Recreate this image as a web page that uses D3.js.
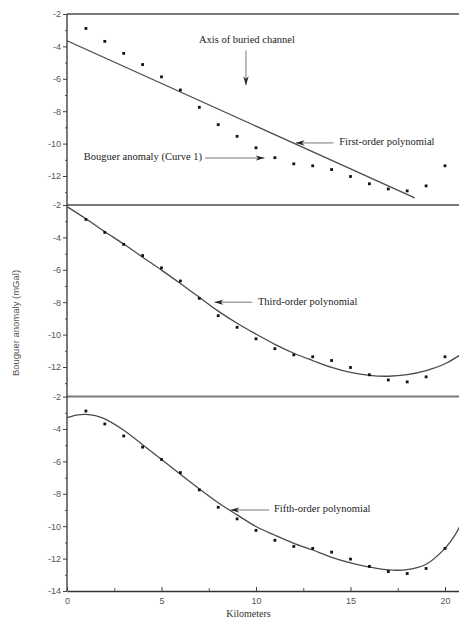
<!DOCTYPE html>
<html>
<head>
<meta charset="utf-8">
<script src="https://cdn.jsdelivr.net/npm/d3@7"></script>
<style>
    body { margin: 0; background: #fff; }
    svg { display: block; }
</style>
</head>
<body>
<svg id="GravityChartSVG" width="459" height="620"></svg>
<script>
// distance along profile (km) for the measured Bouguer anomaly points
var stationKm = [1, 2, 3, 4, 5, 6, 7, 8, 9, 10, 11, 12, 13, 14, 15, 16, 17, 18, 19, 20];
var bouguerValues = [-2.89, -3.69, -4.43, -5.12, -5.88, -6.69, -7.76, -8.83, -9.55, -10.26,
    -10.87, -11.25, -11.37, -11.6, -12.03, -12.48, -12.8, -12.92, -12.61, -11.37];

// fitted curves as [km, mGal]
var firstOrderCurve = [[0, -3.65], [18.4, -13.35]];
var thirdOrderCurve = [[0, -2.1], [1, -2.85], [2, -3.65], [3, -4.41], [4, -5.22], [5, -6.02],
    [6, -6.85], [7, -7.7], [8, -8.55], [9, -9.3], [10, -9.97], [11, -10.6], [12, -11.15],
    [13, -11.6], [14, -12.02], [15, -12.33], [16, -12.52], [17, -12.57], [18, -12.47],
    [19, -12.22], [20, -11.8], [21, -11.1]];
var fifthOrderCurve = [[0, -3.3], [0.5, -3.14], [1, -3.1], [1.5, -3.18], [2, -3.38], [3, -4.08],
    [4, -4.97], [5, -5.88], [6, -6.8], [7, -7.7], [8, -8.55], [9, -9.3], [10, -10.02],
    [11, -10.56], [12, -11.06], [13, -11.47], [14, -11.92], [15, -12.26], [16, -12.52],
    [17, -12.7], [18, -12.68], [19, -12.35], [20, -11.37], [20.5, -10.6], [21, -9.5]];

// tick labels
var xTickValues = [0, 5, 10, 15, 20];
var yTickValues = [-2, -4, -6, -8, -10, -12];
var yTickValuesLast = [-2, -4, -6, -8, -10, -12, -14];

/**
 * Draws the three stacked panels of the gravity profile
 * @returns {undefined}
 */
function drawGravityProfile()
{
    var svg = d3.select("#GravityChartSVG");
    var left = 67;
    var panelTops = [14, 205, 396.6];
    var panelHeight = 194.4;
    var axisBottom = panelTops[2] + panelHeight;

    var x = d3.scaleLinear().domain([0, 21]).range([left, left + 21 * 18.9]);

    var panels = panelTops.map(function(top) {
        return d3.scaleLinear().domain([-14, -2]).range([top + panelHeight, top]);
    });

    var points = stationKm.map(function(k, i) {
        return [k, bouguerValues[i]];
    });

    var serif = "'Liberation Serif', 'Times New Roman', serif";
    var sans = "'Liberation Sans', Arial, sans-serif";
    // plain hyphen minus like the original figure
    var plain = function(d) { return String(d); };

    // panel separators
    panelTops.forEach(function(top) {
        svg.append("line")
                .attr("x1", left).attr("x2", 459)
                .attr("y1", top).attr("y2", top)
                .style("stroke", "#7a7a7a")
                .style("stroke-width", "2px");
    });

    // y axes, one per panel
    panels.forEach(function(y, i) {
        var labels = i === 2 ? yTickValuesLast : yTickValues;
        var major = svg.append("g")
                .attr("transform", "translate(" + left + ",0)")
                .call(d3.axisLeft(y).tickValues(labels).tickSize(4).tickSizeOuter(0)
                        .tickFormat(plain));
        major.select(".domain").remove();
        major.selectAll("line").style("stroke", "#444");
        major.selectAll("text")
                .style("font-family", sans)
                .style("font-size", "9px")
                .style("fill", "#555")
                .attr("x", -6);

        var minor = svg.append("g")
                .attr("transform", "translate(" + left + ",0)")
                .call(d3.axisLeft(y).tickValues([-3, -5, -7, -9, -11, -13]).tickSize(2)
                        .tickFormat(""));
        minor.select(".domain").remove();
        minor.selectAll("line").style("stroke", "#555");
    });

    svg.append("line")
            .attr("x1", left).attr("x2", left)
            .attr("y1", panelTops[0]).attr("y2", axisBottom)
            .style("stroke", "#333")
            .style("stroke-width", "1.3px");

    // x axis
    var xAxis = svg.append("g")
            .attr("transform", "translate(0," + axisBottom + ")")
            .call(d3.axisBottom(x).tickValues(xTickValues).tickSize(-4).tickSizeOuter(0)
                    .tickFormat(plain));
    xAxis.select(".domain")
            .style("stroke", "#333")
            .style("stroke-width", "1.3px");
    xAxis.selectAll("line").style("stroke", "#444");
    xAxis.selectAll("text")
            .style("font-family", sans)
            .style("font-size", "9px")
            .style("fill", "#555")
            .attr("y", 7);

    var xMinor = svg.append("g")
            .attr("transform", "translate(0," + axisBottom + ")")
            .call(d3.axisBottom(x).tickValues([2.5, 7.5, 12.5, 17.5]).tickSize(-3)
                    .tickFormat(""));
    xMinor.select(".domain").remove();
    xMinor.selectAll("line").style("stroke", "#555");

    // axis titles
    svg.append("text")
            .attr("transform", "translate(16,323) rotate(-90)")
            .attr("text-anchor", "middle")
            .attr("dominant-baseline", "middle")
            .style("font-family", sans)
            .style("font-size", "9.5px")
            .style("fill", "#555")
            .text("Bouguer anomaly (mGal)");

    svg.append("text")
            .attr("x", x(9.6))
            .attr("y", 615)
            .attr("text-anchor", "middle")
            .attr("dominant-baseline", "middle")
            .style("font-family", serif)
            .style("font-size", "10px")
            .style("fill", "#333")
            .text("Kilometers");

    // fitted curves
    var curves = [firstOrderCurve, thirdOrderCurve, fifthOrderCurve];
    curves.forEach(function(curve, i) {
        var line = d3.line()
                .x(function(d) { return x(d[0]); })
                .y(function(d) { return panels[i](d[1]); })
                .curve(d3.curveCatmullRom);
        svg.append("path")
                .datum(curve)
                .attr("d", line)
                .style("fill", "none")
                .style("stroke", "#4a4a4a")
                .style("stroke-width", "1.3px");
    });

    // measured points in every panel
    panels.forEach(function(y) {
        svg.append("g")
                .selectAll("rect")
                .data(points)
                .enter()
                .append("rect")
                .attr("x", function(d) { return x(d[0]) - 1.4; })
                .attr("y", function(d) { return y(d[1]) - 1.4; })
                .attr("width", 2.8)
                .attr("height", 2.8)
                .style("fill", "#111");
    });

    // annotations
    var arrowDefs = svg.append("defs");
    arrowDefs.append("marker")
            .attr("id", "arrowHead")
            .attr("viewBox", "0 0 10 6")
            .attr("refX", 10)
            .attr("refY", 3)
            .attr("markerWidth", 9)
            .attr("markerHeight", 5.5)
            .attr("markerUnits", "userSpaceOnUse")
            .attr("orient", "auto")
            .append("path")
            .attr("d", "M0,0L10,3L0,6L3,3Z")
            .style("fill", "#222");

    /**
     * Draws a horizontal or vertical pointer
     * @param {type} y panel scale
     * @param {type} from start of arrow [km, mGal]
     * @param {type} to tip of arrow [km, mGal]
     * @returns {undefined}
     */
    function pointer(y, from, to) {
        svg.append("line")
                .attr("x1", x(from[0])).attr("y1", y(from[1]))
                .attr("x2", x(to[0])).attr("y2", y(to[1]))
                .attr("marker-end", "url(#arrowHead)")
                .style("stroke", "#666")
                .style("stroke-width", "0.9px");
    }

    function label(y, at, txt, anchor) {
        svg.append("text")
                .attr("x", x(at[0]))
                .attr("y", y(at[1]))
                .attr("text-anchor", anchor)
                .attr("dominant-baseline", "middle")
                .style("font-family", serif)
                .style("font-size", "10.5px")
                .style("fill", "#222")
                .text(txt);
    }

    label(panels[0], [9.52, -3.66], "Axis of buried channel", "middle");
    pointer(panels[0], [9.47, -4.25], [9.47, -6.4]);

    label(panels[0], [14.4, -9.96], "First-order polynomial", "start");
    pointer(panels[0], [14.1, -9.96], [12.1, -9.96]);

    label(panels[0], [7.14, -10.89], "Bouguer anomaly (Curve 1)", "end");
    pointer(panels[0], [7.3, -10.89], [10.45, -10.89]);

    label(panels[1], [10.1, -8.0], "Third-order polynomial", "start");
    pointer(panels[1], [9.8, -8.0], [7.8, -8.0]);

    label(panels[2], [10.95, -9.0], "Fifth-order polynomial", "start");
    pointer(panels[2], [10.7, -9.0], [8.65, -9.0]);
}

drawGravityProfile();
</script>
</body>
</html>
